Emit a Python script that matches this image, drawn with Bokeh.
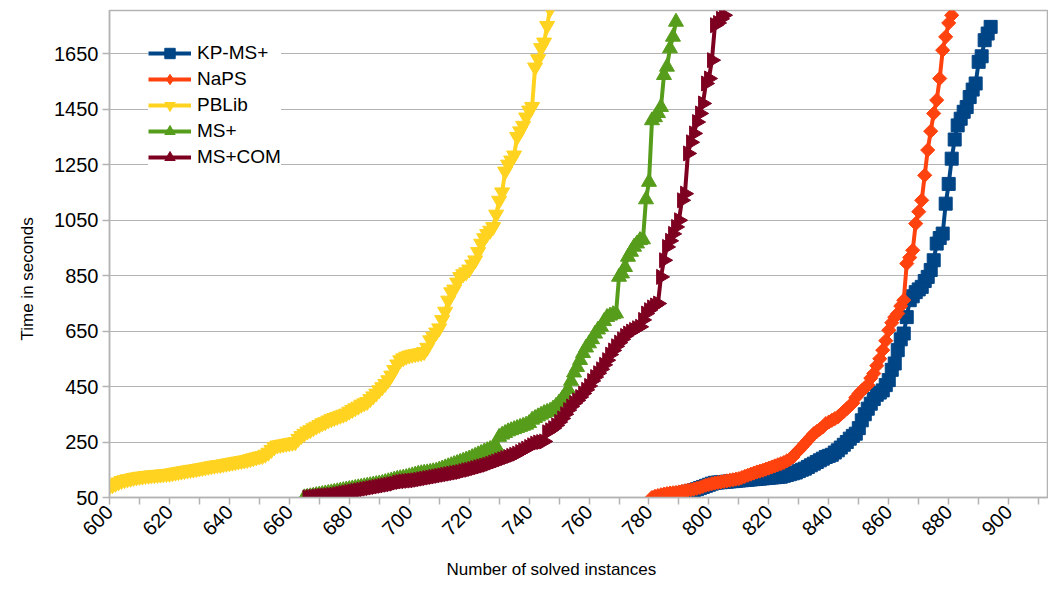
from math import pi
from bokeh.plotting import figure
from bokeh.models import FixedTicker, Legend, LegendItem, Range1d, ColumnDataSource, Title
from bokeh.embed import file_html
from bokeh.resources import INLINE

# ---------------- data ----------------
series_names = ["KP-MS+", "NaPS", "PBLib", "MS+", "MS+COM"]

kp_start = 784
kp_times = [50, 52, 54, 56, 58, 60, 62, 65, 68, 71,
            74, 77, 80, 84, 88, 92, 96, 100, 103, 104,
            105, 106, 107, 108, 109, 110, 111, 112, 113, 114,
            115, 116, 117, 118, 119, 120, 121, 122, 123, 124,
            125, 128, 131, 134, 137, 140, 145, 150, 154, 160,
            166, 172, 178, 184, 190, 196, 200, 204, 212, 220,
            230, 240, 250, 262, 272, 280, 300, 328, 350, 370,
            388, 405, 420, 428, 436, 455, 473, 510, 533, 581, 620, 641, 700,
            761, 775, 790, 800, 809, 830, 845, 870, 905, 965,
            985, 1001, 1109, 1180, 1271, 1340, 1391, 1415, 1440, 1457,
            1493, 1520, 1542, 1620, 1640, 1698, 1722, 1746]

naps_start = 781
naps_times = [50, 54, 57, 60, 62, 64, 66, 67, 68, 70,
              72, 74, 76, 78, 80, 83, 86, 90, 94, 97,
              100, 102, 104, 106, 108, 110, 112, 114, 116, 118,
              122, 126, 130, 134, 138, 142, 145, 148, 152, 156,
              160, 164, 168, 172, 176, 182, 188, 196, 210, 220,
              232, 244, 256, 268, 280, 288, 296, 304, 316, 322,
              328, 334, 340, 350, 360, 370, 380, 390, 410, 424,
              435, 445, 455, 480, 497, 525, 550, 581, 615, 653,
              680, 700, 713, 740, 761, 893, 915, 941, 1037, 1080,
              1121, 1211, 1302, 1370, 1434, 1482, 1560, 1662, 1710, 1760, 1788]

pblib_start = 600
pblib_times = [90, 95, 100, 105, 110, 113, 116, 118, 121, 123, 125,
               126, 128, 129, 130, 131, 132, 133, 134, 135, 136,
               138, 140, 142, 144, 146, 148, 150, 151, 153, 155,
               157, 159, 161, 163, 165, 167, 168, 170, 172, 174,
               176, 178, 180, 182, 184, 186, 189, 192, 195, 198, 200,
               205, 212, 222, 232, 238,
               240, 242, 244, 246, 248, 250,
               262, 272, 280, 288, 293,
               300, 306, 312, 318, 322, 328,
               333, 337, 341, 345, 349, 353, 360,
               366, 372, 378, 385, 390, 395, 405, 415, 425, 437,
               448, 460, 473, 490, 510, 530, 545,
               552, 558, 562, 565, 567, 569, 571, 575, 590, 617,
               630, 645, 660, 690, 720, 760,
               790, 800, 825, 845, 855, 862, 872, 890, 905, 935,
               965, 985, 1000, 1012, 1025, 1070, 1120, 1150, 1225, 1250,
               1265, 1283, 1350, 1370, 1390, 1420, 1445, 1458, 1600, 1630,
               1670, 1690, 1750, 1810]

ms_start = 665
ms_times = [50,
            52, 54, 56, 58, 60, 62, 64, 66, 68, 70,
            72, 74, 76, 78, 80, 82, 84, 86, 88, 90,
            92, 94, 96, 98, 100, 102, 105, 108, 111, 114,
            117, 119, 121, 123, 126, 129, 132, 135, 137, 139,
            140, 142, 144, 146, 150, 154, 158, 162, 166, 170,
            174, 178, 182, 186, 190, 195, 200, 205, 210, 215,
            220, 224, 228, 234, 268,
            276, 282, 288, 292, 296, 300, 304, 308, 312, 318,
            330, 336, 342, 348, 354, 358, 362, 370, 380, 392,
            405, 420, 440, 470, 500, 520, 545, 570, 590, 605,
            620, 640, 655, 665, 685, 700, 705, 710, 713,
            845, 857, 880, 917, 935, 953, 965, 977, 980, 1124,
            1187, 1409, 1420, 1435, 1457, 1572, 1602, 1668, 1710, 1764]

com_start = 666
com_times = [50, 52, 53, 54, 55, 56, 57, 58, 59, 60,
             62, 64, 66, 68, 70, 72, 74, 76, 78, 80,
             82, 84, 86, 88, 90, 92, 94, 96, 98, 100,
             104, 106, 108, 109, 110, 111, 112, 114, 116, 118,
             120, 122, 124, 126, 128, 130, 132, 134, 136, 138,
             140, 142, 145, 148, 150, 153, 156, 159, 162, 165,
             168, 172, 176, 180, 184, 188, 192, 196, 200, 204,
             208, 214, 220, 226, 232, 238, 244, 248, 250, 252,
             285, 292, 300, 310, 322, 335, 350, 365, 378, 390,
             400, 412, 425, 438, 452, 470, 484, 498, 512, 528,
             545, 565, 580, 595, 608, 620, 632, 641, 648, 654,
             660, 665, 690, 713, 725, 735, 742, 749, 845, 905,
             953, 975, 1000, 1025, 1049, 1121, 1145, 1290, 1330, 1362,
             1403, 1434, 1470, 1542, 1560, 1626, 1752, 1760, 1775, 1788]

x_tick_labels = list(range(600, 901, 20))
x_minor = list(range(610, 911, 20))
y_tick_labels = list(range(50, 1651, 200))
x_title = "Number of solved instances"
y_title = "Time in seconds"

# ---------------- figure ----------------
FONT = "Liberation Sans"
GRAY = "#b3b3b3"

p = figure(width=1048, height=591,
           x_range=Range1d(600, 913.3), y_range=Range1d(50, 1805),
           output_backend="svg", toolbar_location=None,
           min_border_left=108, min_border_right=0,
           min_border_top=10, min_border_bottom=94)

p.outline_line_color = GRAY
p.outline_line_width = 1.5
p.background_fill_color = "white"
p.border_fill_color = "white"

p.xgrid.visible = False
yt = FixedTicker(ticks=y_tick_labels)
p.yaxis.ticker = yt
p.ygrid.ticker = yt
p.ygrid.grid_line_color = GRAY
p.ygrid.grid_line_width = 1.2

p.xaxis.ticker = FixedTicker(ticks=x_tick_labels, minor_ticks=x_minor)
p.xaxis.major_label_orientation = pi / 4

for ax in (p.xaxis, p.yaxis):
    ax.axis_line_color = GRAY
    ax.axis_line_width = 1.5
    ax.major_tick_line_color = GRAY
    ax.minor_tick_line_color = GRAY
    ax.major_tick_line_width = 1.5
    ax.minor_tick_line_width = 1.5
    ax.major_tick_in = 0
    ax.major_tick_out = 7
    ax.minor_tick_in = 0
    ax.major_label_text_font = FONT
    ax.major_label_text_font_size = "20px"
    ax.major_label_text_color = "#000000"

p.xaxis.minor_tick_out = 7
p.yaxis.minor_tick_out = 0
p.xaxis.major_label_standoff = 4
p.yaxis.major_label_standoff = 4

# axis titles (placed like the reference, off-centre)
xt = Title(text=x_title, align="left", offset=337, standoff=26,
           text_font=FONT, text_font_size="17px", text_font_style="normal",
           text_color="#000000")
p.add_layout(xt, "below")
ytl = Title(text=y_title, align="left", offset=157, standoff=30,
            text_font=FONT, text_font_size="17px", text_font_style="normal",
            text_color="#000000")
p.add_layout(ytl, "left")

colors = ["#004586", "#ff420e", "#ffd320", "#579d1c", "#7e0021"]
markers = ["square", "square", "inverted_triangle", "triangle", "triangle"]
legend_markers = ["square", "diamond", "inverted_triangle", "triangle", "triangle"]
angles = [0, pi / 4, 0, 0, -pi / 2]
sizes = [13, 10, 15, 15, 15]
starts = [kp_start, naps_start, pblib_start, ms_start, com_start]
times = [kp_times, naps_times, pblib_times, ms_times, com_times]

items = []
for name, st, ts, c, m, lm, a, s in zip(series_names, starts, times, colors,
                                         markers, legend_markers, angles, sizes):
    src = ColumnDataSource(dict(x=list(range(st, st + len(ts))), y=ts))
    ln = p.line("x", "y", source=src, line_color=c, line_width=4)
    sc = p.scatter("x", "y", source=src, marker=m, angle=a, size=s,
                   fill_color=c, line_color=c, line_width=1)
    if lm != m:
        key = p.scatter("x", "y", source=src, marker=lm, size=14,
                        fill_color=c, line_color=c, visible=False)
        items.append(LegendItem(label=name, renderers=[ln, key]))
    else:
        items.append(LegendItem(label=name, renderers=[ln, sc]))

legend = Legend(items=items, location=(39, 327), margin=0, padding=12,
                spacing=0, glyph_width=43, glyph_height=26, label_height=26,
                label_standoff=6, label_text_font=FONT,
                label_text_font_size="19px", label_text_color="#000000",
                border_line_color=None, background_fill_color="white",
                background_fill_alpha=1.0, inactive_fill_alpha=0.0)
p.add_layout(legend)

open("out.html", "w").write(file_html(p, INLINE))
